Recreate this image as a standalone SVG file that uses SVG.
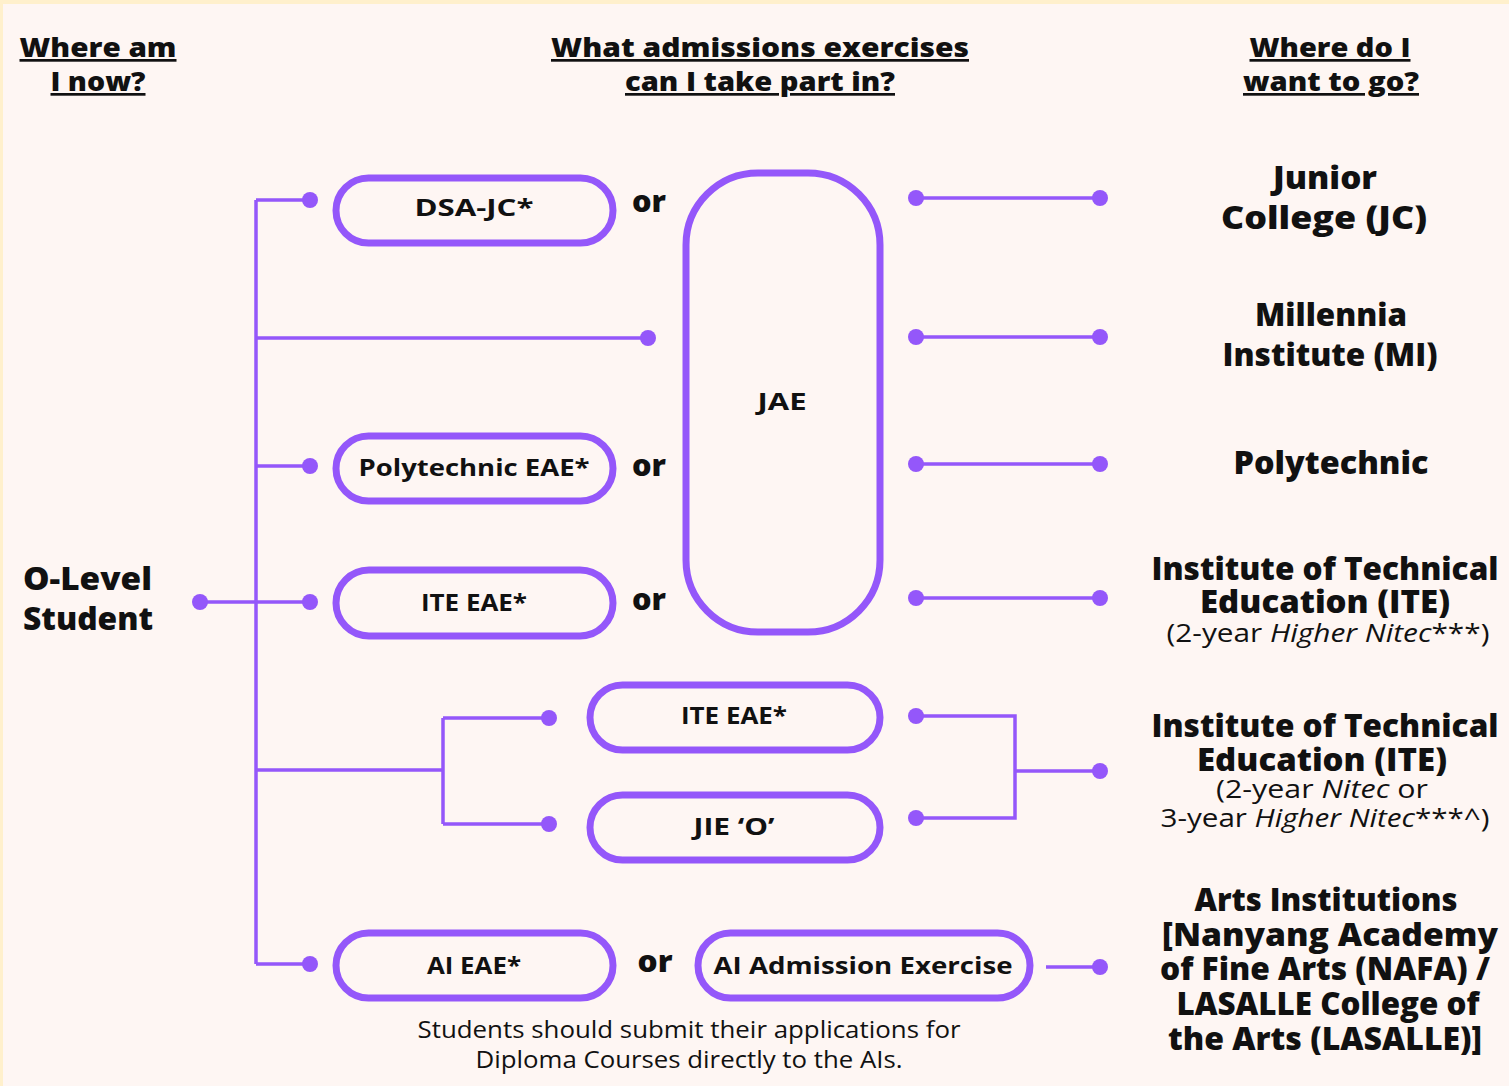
<svg xmlns="http://www.w3.org/2000/svg" width="1509" height="1086" viewBox="0 0 1509 1086">
<style>
text{font-family:"Open Sans","Liberation Sans",sans-serif;fill:#111;text-anchor:middle}
.h{font-size:27px;font-weight:800;text-decoration:underline}
.t{font-size:31px;font-weight:800}
.s{font-size:26px;font-weight:400}
.p{font-size:24px;font-weight:700}
.or{font-size:30px;font-weight:800}
.n{font-size:23px;font-weight:400}
.pill{fill:none;stroke:#9457FA;stroke-width:7}
.ln{fill:none;stroke:#9457FA;stroke-width:3.5}
.d{fill:#9457FA}
</style>
<rect x="0" y="0" width="1509" height="1086" fill="#FFF0CC"/>
<rect x="3" y="4" width="1506" height="1082" fill="#FEF6F3"/>

<g id="headers">
<text class="h" x="98" y="57" textLength="157" lengthAdjust="spacingAndGlyphs">Where am</text>
<text class="h" x="98" y="91" textLength="95" lengthAdjust="spacingAndGlyphs">I now?</text>
<text class="h" x="760" y="57" textLength="418" lengthAdjust="spacingAndGlyphs">What admissions exercises</text>
<text class="h" x="760" y="91" textLength="270" lengthAdjust="spacingAndGlyphs">can I take part in?</text>
<text class="h" x="1330" y="57" textLength="161" lengthAdjust="spacingAndGlyphs">Where do I</text>
<text class="h" x="1331" y="91" textLength="176" lengthAdjust="spacingAndGlyphs">want to go?</text>
</g>

<g id="connectors">
<path class="ln" d="M256 200V964M256 200H310M256 338H648M256 466H310M200 602H310M256 770H443M443 718V824M443 718H549M443 824H549M256 964H310"/>
<path class="ln" d="M916 198H1100M916 337H1100M916 464H1100M916 598H1100M916 716H1015V818H916M1015 771H1100M1046 967H1100"/>
<g class="d">
<circle cx="310" cy="200" r="8"/><circle cx="648" cy="338" r="8"/><circle cx="310" cy="466" r="8"/>
<circle cx="200" cy="602" r="8"/><circle cx="310" cy="602" r="8"/><circle cx="549" cy="718" r="8"/>
<circle cx="549" cy="824" r="8"/><circle cx="310" cy="964" r="8"/>
<circle cx="916" cy="198" r="8"/><circle cx="1100" cy="198" r="8"/>
<circle cx="916" cy="337" r="8"/><circle cx="1100" cy="337" r="8"/>
<circle cx="916" cy="464" r="8"/><circle cx="1100" cy="464" r="8"/>
<circle cx="916" cy="598" r="8"/><circle cx="1100" cy="598" r="8"/>
<circle cx="916" cy="716" r="8"/><circle cx="916" cy="818" r="8"/><circle cx="1100" cy="771" r="8"/>
<circle cx="1100" cy="967" r="8"/>
</g>
</g>

<g id="olevel">
<text class="t" x="23" y="590" style="text-anchor:start" textLength="129" lengthAdjust="spacingAndGlyphs">O-Level</text>
<text class="t" x="23" y="630" style="text-anchor:start" textLength="130" lengthAdjust="spacingAndGlyphs">Student</text>
</g>

<g id="dsa-jc">
<rect class="pill" x="336" y="178" width="277" height="65" rx="32.5"/>
<text class="p" x="474" y="216" textLength="119" lengthAdjust="spacingAndGlyphs">DSA-JC*</text>
</g>
<g id="poly-eae">
<rect class="pill" x="336" y="436" width="277" height="65" rx="32.5"/>
<text class="p" x="474" y="476" textLength="231" lengthAdjust="spacingAndGlyphs">Polytechnic EAE*</text>
</g>
<g id="ite-eae-1">
<rect class="pill" x="336" y="570" width="277" height="66" rx="33"/>
<text class="p" x="474" y="611" textLength="106" lengthAdjust="spacingAndGlyphs">ITE EAE*</text>
</g>
<g id="jae">
<rect class="pill" x="686" y="173" width="194" height="459" rx="72"/>
<text class="p" x="782" y="410" textLength="49" lengthAdjust="spacingAndGlyphs">JAE</text>
</g>
<g id="ite-eae-2">
<rect class="pill" x="590" y="685" width="290" height="65" rx="32.5"/>
<text class="p" x="734" y="724" textLength="106" lengthAdjust="spacingAndGlyphs">ITE EAE*</text>
</g>
<g id="jie-o">
<rect class="pill" x="590" y="795" width="290" height="65" rx="32.5"/>
<text class="p" x="734" y="835" textLength="81" lengthAdjust="spacingAndGlyphs">JIE ‘O’</text>
</g>
<g id="ai-eae">
<rect class="pill" x="336" y="933" width="277" height="65" rx="32.5"/>
<text class="p" x="474" y="974" textLength="94" lengthAdjust="spacingAndGlyphs">AI EAE*</text>
</g>
<g id="ai-admission">
<rect class="pill" x="698" y="933" width="332" height="65" rx="32.5"/>
<text class="p" x="863" y="974" textLength="299" lengthAdjust="spacingAndGlyphs">AI Admission Exercise</text>
</g>

<g id="or-labels">
<text class="or" x="649" y="212" textLength="34" lengthAdjust="spacingAndGlyphs">or</text>
<text class="or" x="649" y="476" textLength="34" lengthAdjust="spacingAndGlyphs">or</text>
<text class="or" x="649" y="610" textLength="34" lengthAdjust="spacingAndGlyphs">or</text>
<text class="or" x="655" y="972" textLength="35" lengthAdjust="spacingAndGlyphs">or</text>
</g>

<g id="note">
<text class="n" x="689" y="1038" textLength="543" lengthAdjust="spacingAndGlyphs">Students should submit their applications for</text>
<text class="n" x="689" y="1068" textLength="427" lengthAdjust="spacingAndGlyphs">Diploma Courses directly to the AIs.</text>
</g>

<g id="jc">
<text class="t" x="1325" y="189" textLength="104" lengthAdjust="spacingAndGlyphs">Junior</text>
<text class="t" x="1324" y="229" textLength="206" lengthAdjust="spacingAndGlyphs">College (JC)</text>
</g>
<g id="mi">
<text class="t" x="1331" y="326" textLength="152" lengthAdjust="spacingAndGlyphs">Millennia</text>
<text class="t" x="1330" y="366" textLength="215" lengthAdjust="spacingAndGlyphs">Institute (MI)</text>
</g>
<g id="polytechnic">
<text class="t" x="1331" y="474" textLength="195" lengthAdjust="spacingAndGlyphs">Polytechnic</text>
</g>
<g id="ite-1">
<text class="t" x="1325" y="580" textLength="347" lengthAdjust="spacingAndGlyphs">Institute of Technical</text>
<text class="t" x="1325" y="613" textLength="250" lengthAdjust="spacingAndGlyphs">Education (ITE)</text>
<text class="s" x="1328" y="642" textLength="323" lengthAdjust="spacingAndGlyphs">(2-year <tspan font-style="italic">Higher Nitec</tspan>***)</text>
</g>
<g id="ite-2">
<text class="t" x="1325" y="737" textLength="347" lengthAdjust="spacingAndGlyphs">Institute of Technical</text>
<text class="t" x="1322" y="771" textLength="250" lengthAdjust="spacingAndGlyphs">Education (ITE)</text>
<text class="s" x="1322" y="798" textLength="212" lengthAdjust="spacingAndGlyphs">(2-year <tspan font-style="italic">Nitec</tspan> or</text>
<text class="s" x="1325" y="827" textLength="329" lengthAdjust="spacingAndGlyphs">3-year <tspan font-style="italic">Higher Nitec</tspan>***^)</text>
</g>
<g id="arts">
<text class="t" x="1326" y="911" textLength="263" lengthAdjust="spacingAndGlyphs">Arts Institutions</text>
<text class="t" x="1330" y="946" textLength="336" lengthAdjust="spacingAndGlyphs">[Nanyang Academy</text>
<text class="t" x="1325" y="980" textLength="330" lengthAdjust="spacingAndGlyphs">of Fine Arts (NAFA) /</text>
<text class="t" x="1328" y="1015" textLength="303" lengthAdjust="spacingAndGlyphs">LASALLE College of</text>
<text class="t" x="1325" y="1050" textLength="314" lengthAdjust="spacingAndGlyphs">the Arts (LASALLE)]</text>
</g>
</svg>
